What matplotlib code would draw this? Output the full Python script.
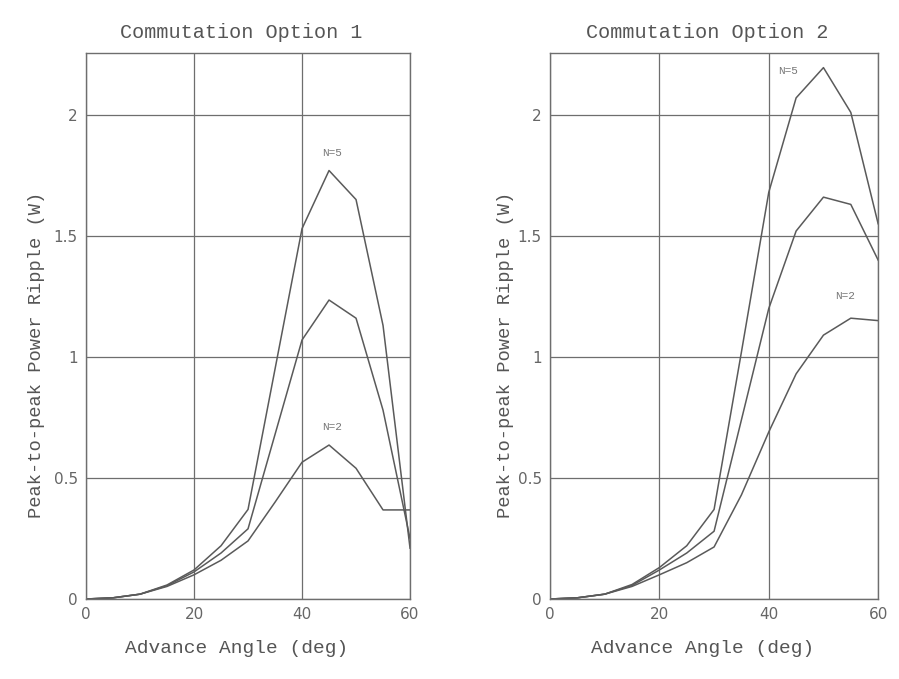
import matplotlib
matplotlib.use("Agg")
import matplotlib.pyplot as plt

# angles d'avance (deg)
angle = [0, 5, 10, 15, 20, 25, 30, 35, 40, 45, 50, 55, 60]

# option 1
opt1_n5 = [0, 0.005, 0.02, 0.058, 0.12, 0.22, 0.37, 0.95, 1.53, 1.77, 1.65, 1.13, 0.21]
opt1_n3 = [0, 0.005, 0.02, 0.055, 0.112, 0.19, 0.29, 0.68, 1.07, 1.235, 1.16, 0.78, 0.25]
opt1_n2 = [0, 0.005, 0.02, 0.052, 0.10, 0.16, 0.24, 0.40, 0.565, 0.636, 0.54, 0.368, 0.368]

# option 2
opt2_n5 = [0, 0.005, 0.02, 0.06, 0.13, 0.22, 0.37, 1.02, 1.68, 2.07, 2.195, 2.01, 1.55]
opt2_n3 = [0, 0.005, 0.02, 0.056, 0.12, 0.19, 0.28, 0.74, 1.20, 1.52, 1.66, 1.63, 1.40]
opt2_n2 = [0, 0.005, 0.02, 0.052, 0.10, 0.15, 0.215, 0.43, 0.69, 0.93, 1.09, 1.16, 1.15]

titles = ["Commutation Option 1", "Commutation Option 2"]
xticks = [0, 20, 40, 60]
yticks = [0, 0.5, 1, 1.5, 2]
ytick_labels = ["0", "0.5", "1", "1.5", "2"]

mono = "Liberation Mono"
tickfont = ["Liberation Sans Narrow", "DejaVu Sans"]
col_line = "#5a5a5a"
col_grid = "#6e6e6e"
col_text = "#555555"

fig = plt.figure(figsize=(8.99, 6.79), dpi=100)
ax1 = fig.add_axes([0.0957, 0.1178, 0.3604, 0.804])
ax2 = fig.add_axes([0.6118, 0.1178, 0.365, 0.804])

series = [(opt1_n5, opt1_n3, opt1_n2), (opt2_n5, opt2_n3, opt2_n2)]

for ax, title, curves in zip([ax1, ax2], titles, series):
    for c in curves:
        ax.plot(angle, c, color=col_line, lw=1.1)
    ax.set_xlim(0, 60)
    ax.set_ylim(0, 2.255)
    ax.set_xticks(xticks)
    ax.set_yticks(yticks)
    ax.set_yticklabels(ytick_labels)
    ax.grid(True, color=col_grid, lw=0.9)
    ax.set_axisbelow(True)
    for s in ax.spines.values():
        s.set_color(col_grid)
        s.set_linewidth(1.0)
    ax.tick_params(length=0, pad=6, labelsize=11, colors="#666666")
    for lab in ax.get_xticklabels() + ax.get_yticklabels():
        lab.set_family(tickfont)
    ax.set_title(title, family=mono, fontsize=14.5, color=col_text, pad=11, x=0.48)
    ax.set_xlabel("Advance Angle (deg)", family=mono, fontsize=14, color=col_text)
    ax.xaxis.set_label_coords(0.465, -0.075)
    ax.set_ylabel("Peak-to-peak Power Ripple (W)", family=mono,
                  fontsize=13.5, color=col_text)

ax1.yaxis.set_label_coords(-0.127, 0.447)
ax2.yaxis.set_label_coords(-0.11, 0.447)

ax1.text(45.5, 1.83, "N=5", fontsize=8, color="#777777", ha="center", family=mono)
ax1.text(45.5, 0.70, "N=2", fontsize=8, color="#777777", ha="center", family=mono)
ax2.text(43.5, 2.17, "N=5", fontsize=8, color="#777777", ha="center", family=mono)
ax2.text(54, 1.24, "N=2", fontsize=8, color="#777777", ha="center", family=mono)

fig.savefig("out.png", dpi=100)
